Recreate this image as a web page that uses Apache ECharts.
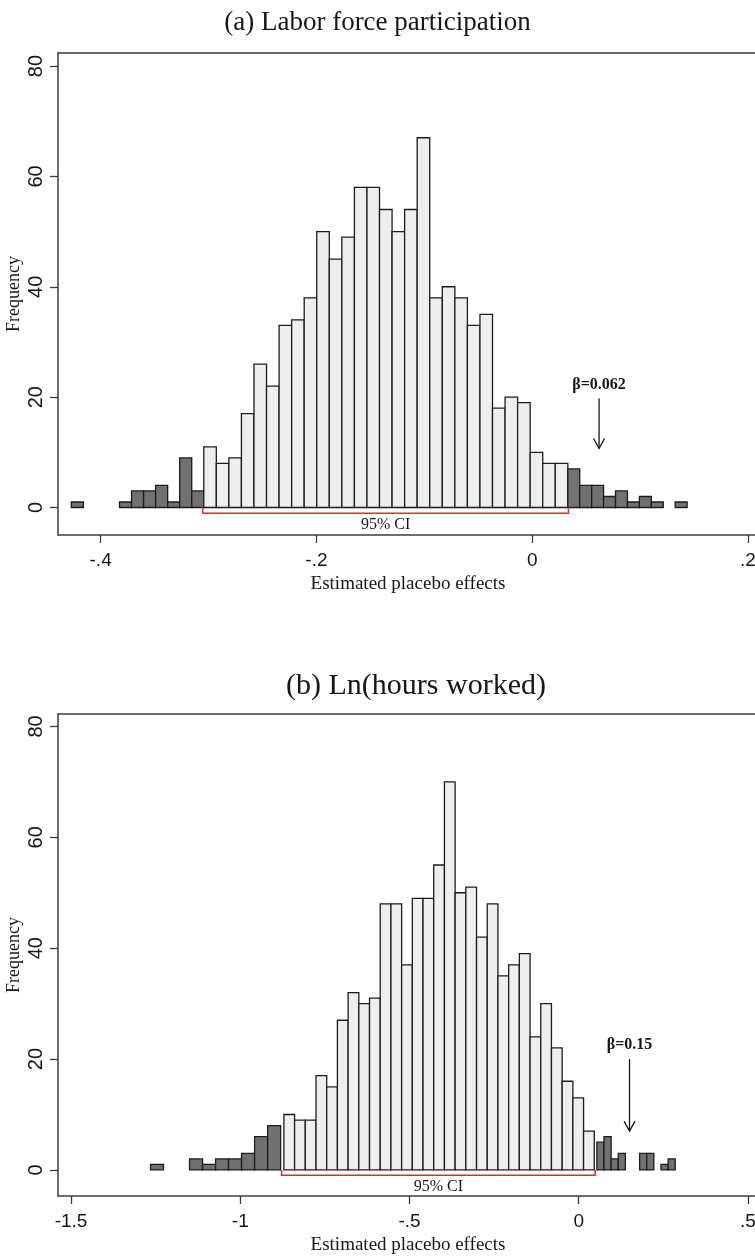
<!DOCTYPE html>
<html>
<head>
<meta charset="utf-8">
<title>Estimated placebo effects</title>
<script src="https://cdn.jsdelivr.net/npm/echarts@6/dist/echarts.min.js"></script>
<style>
  html, body { margin: 0; padding: 0; background: #fff; }
  #chart-container { width: 755px; height: 1256px; }
</style>
</head>
<body>
<div id="chart-container"></div>
<script>
// (a) Labor force participation: three histograms (inside CI, left tail, right tail)
var aLightStart = -0.3044, aLightWidth = 0.011636;
var aLightCounts = [11, 8, 9, 17, 26, 22, 33, 34, 38, 50, 45, 49, 58, 58, 54, 50, 54,
                    67, 38, 40, 38, 33, 35, 18, 20, 19, 10, 8, 8];
var aLowStart = -0.4271, aLowWidth = 0.011155;
var aLowCounts = [1, 0, 0, 0, 1, 3, 3, 4, 1, 9, 3];
var aHighStart = 0.0330, aHighWidth = 0.01106;
var aHighCounts = [7, 4, 4, 2, 3, 1, 2, 1, 0, 1];
var aCI = [-0.3054, 0.0336];
var aBeta = 0.062, aBetaLabel = 'β=0.062';
var aXTicks = [-0.4, -0.2, 0, 0.2];

// (b) Ln(hours worked)
var bLightStart = -0.8711, bLightWidth = 0.03162;
var bLightCounts = [10, 9, 9, 17, 15, 27, 32, 30, 31, 48, 48, 37, 49, 49, 55, 70, 50,
                    51, 42, 48, 35, 37, 39, 24, 30, 22, 16, 13, 7];
var bLowStart = -1.2652, bLowWidth = 0.03844;
var bLowCounts = [1, 0, 0, 2, 1, 2, 2, 3, 6, 8];
var bHighStart = 0.0535, bHighWidth = 0.02105;
var bHighCounts = [5, 6, 2, 3, 0, 0, 3, 3, 0, 1, 2];
var bCI = [-0.8779, 0.0485];
var bBeta = 0.15, bBetaLabel = 'β=0.15';
var bXTicks = [-1.5, -1, -0.5, 0, 0.5];

var yTicks = [0, 20, 40, 60, 80];

var LIGHT = '#eeeeee', DARK = '#717171', EDGE = '#1c1c1c', AXIS = '#3c3c3c', INK = '#161616';
var SERIF = '"Liberation Serif", "DejaVu Serif", serif';
var SANS = '"Liberation Sans", Arial, sans-serif';

function bins(start, width, counts) {
  return counts.map(function (n, i) {
    return [start + i * width, start + (i + 1) * width, n];
  });
}

function renderBar(params, api) {
  var n = api.value(2);
  if (!n) return null;
  var p0 = api.coord([api.value(0), n]);
  var p1 = api.coord([api.value(1), 0]);
  return {
    type: 'rect',
    shape: { x: p0[0], y: p0[1], width: p1[0] - p0[0], height: p1[1] - p0[1] },
    style: { fill: api.visual('color'), stroke: EDGE, lineWidth: 1.3 }
  };
}

// red bracket under the bars with the "95% CI" text
function renderCI(params, api) {
  var lo = api.value(0), hi = api.value(1), yb = api.value(2), yt = api.value(3);
  var a = api.coord([lo, 0]), b = api.coord([lo, yb]);
  var c = api.coord([hi, yb]), d = api.coord([hi, 0]);
  var t = api.coord([(lo + hi) / 2, yt]);
  return {
    type: 'group',
    children: [
      { type: 'polyline', shape: { points: [a, b, c, d] },
        style: { stroke: '#e8262b', lineWidth: 1.5, fill: null } },
      { type: 'text', x: t[0], y: t[1],
        style: { text: '95% CI', fill: INK, font: '16px ' + SERIF, align: 'center', verticalAlign: 'middle' } }
    ]
  };
}

function makeArrow(label) {
  return function (params, api) {
    var x = api.value(0);
    var top = api.coord([x, api.value(1)]);
    var tip = api.coord([x, api.value(2)]);
    var txt = api.coord([x, api.value(3)]);
    return {
      type: 'group',
      children: [
        { type: 'line', shape: { x1: top[0], y1: top[1], x2: tip[0], y2: tip[1] },
          style: { stroke: INK, lineWidth: 1.3 } },
        { type: 'polyline',
          shape: { points: [[tip[0] - 5.5, tip[1] - 10], [tip[0], tip[1]], [tip[0] + 5.5, tip[1] - 10]] },
          style: { stroke: INK, lineWidth: 1.3, fill: null } },
        { type: 'text', x: txt[0], y: txt[1],
          style: { text: label, fill: INK, font: 'bold 16px ' + SERIF, align: 'center', verticalAlign: 'middle' } }
      ]
    };
  };
}

function shortNum(v) {
  return String(v).replace(/^(-?)0\./, '$1.');
}

function xAxisFor(idx, min, max, ticks) {
  return {
    type: 'value', gridIndex: idx, min: min, max: max,
    splitLine: { show: false },
    axisLine: { show: true, onZero: false, lineStyle: { color: AXIS, width: 1.5 } },
    axisTick: { show: true, customValues: ticks, length: 8, lineStyle: { color: AXIS, width: 1.3 } },
    axisLabel: { customValues: ticks, formatter: shortNum, fontFamily: SANS, fontSize: 19, color: INK, margin: 16 },
    name: 'Estimated placebo effects', nameLocation: 'middle', nameGap: 40,
    nameTextStyle: { fontFamily: SERIF, fontSize: 19, color: INK }
  };
}

// plain top frame line of the plot region
function topFrameFor(idx, min, max) {
  return {
    type: 'value', gridIndex: idx, position: 'top', min: min, max: max,
    splitLine: { show: false }, axisTick: { show: false }, axisLabel: { show: false },
    axisLine: { show: true, onZero: false, lineStyle: { color: AXIS, width: 1.5 } }
  };
}

function yAxisFor(idx, min, max) {
  return {
    type: 'value', gridIndex: idx, min: min, max: max,
    splitLine: { show: false },
    axisLine: { show: true, onZero: false, lineStyle: { color: AXIS, width: 1.5 } },
    axisTick: { show: true, customValues: yTicks, length: 8, lineStyle: { color: AXIS, width: 1.3 } },
    axisLabel: { customValues: yTicks, rotate: 90, fontFamily: SANS, fontSize: 20, color: INK, margin: 12 },
    name: 'Frequency', nameLocation: 'middle', nameRotate: 90, nameGap: 35, nameMoveOverlap: false,
    nameTextStyle: { fontFamily: SERIF, fontSize: 18, color: INK }
  };
}

function histSeries(idx, data, color) {
  return {
    type: 'custom', xAxisIndex: idx, yAxisIndex: idx, renderItem: renderBar,
    itemStyle: { color: color }, encode: { x: [0, 1], y: 2 }, silent: true, data: data
  };
}

var dom = document.getElementById('chart-container');
var myChart = echarts.init(dom, null, { renderer: 'canvas' });

var option = {
  backgroundColor: '#fff',
  animation: false,
  title: [
    { text: '(a) Labor force participation', left: 'center', top: 4,
      textStyle: { fontFamily: SERIF, fontSize: 27, fontWeight: 'normal', color: INK } },
    { text: '(b) Ln(hours worked)', left: 411, textAlign: 'center', top: 666,
      textStyle: { fontFamily: SERIF, fontSize: 30, fontWeight: 'normal', color: INK } }
  ],
  grid: [
    { left: 58, top: 53, right: -3, height: 482, outerBoundsMode: 'none', containLabel: false },
    { left: 58, top: 714, right: -3, height: 482, outerBoundsMode: 'none', containLabel: false }
  ],
  xAxis: [
    xAxisFor(0, -0.4395, 0.2093, aXTicks),
    xAxisFor(1, -1.5385, 0.5296, bXTicks),
    topFrameFor(0, -0.4395, 0.2093),
    topFrameFor(1, -1.5385, 0.5296)
  ],
  yAxis: [
    yAxisFor(0, -4.98, 82.36),
    yAxisFor(1, -4.7, 82.24)
  ],
  series: [
    histSeries(0, bins(aLowStart, aLowWidth, aLowCounts), DARK),
    histSeries(0, bins(aLightStart, aLightWidth, aLightCounts), LIGHT),
    histSeries(0, bins(aHighStart, aHighWidth, aHighCounts), DARK),
    { type: 'custom', xAxisIndex: 0, yAxisIndex: 0, renderItem: renderCI, silent: true,
      encode: { x: [0, 1], y: [2, 3] }, data: [[aCI[0], aCI[1], -1.05, -3.2]] },
    { type: 'custom', xAxisIndex: 0, yAxisIndex: 0, renderItem: makeArrow(aBetaLabel), silent: true,
      encode: { x: 0, y: [1, 2, 3] }, data: [[aBeta, 19.8, 10.7, 22.3]] },

    histSeries(1, bins(bLowStart, bLowWidth, bLowCounts), DARK),
    histSeries(1, bins(bLightStart, bLightWidth, bLightCounts), LIGHT),
    histSeries(1, bins(bHighStart, bHighWidth, bHighCounts), DARK),
    { type: 'custom', xAxisIndex: 1, yAxisIndex: 1, renderItem: renderCI, silent: true,
      encode: { x: [0, 1], y: [2, 3] }, data: [[bCI[0], bCI[1], -0.95, -3.0]] },
    { type: 'custom', xAxisIndex: 1, yAxisIndex: 1, renderItem: makeArrow(bBetaLabel), silent: true,
      encode: { x: 0, y: [1, 2, 3] }, data: [[bBeta, 20, 7.0, 22.5]] }
  ]
};

myChart.setOption(option);
window.addEventListener('resize', myChart.resize);
</script>
</body>
</html>
